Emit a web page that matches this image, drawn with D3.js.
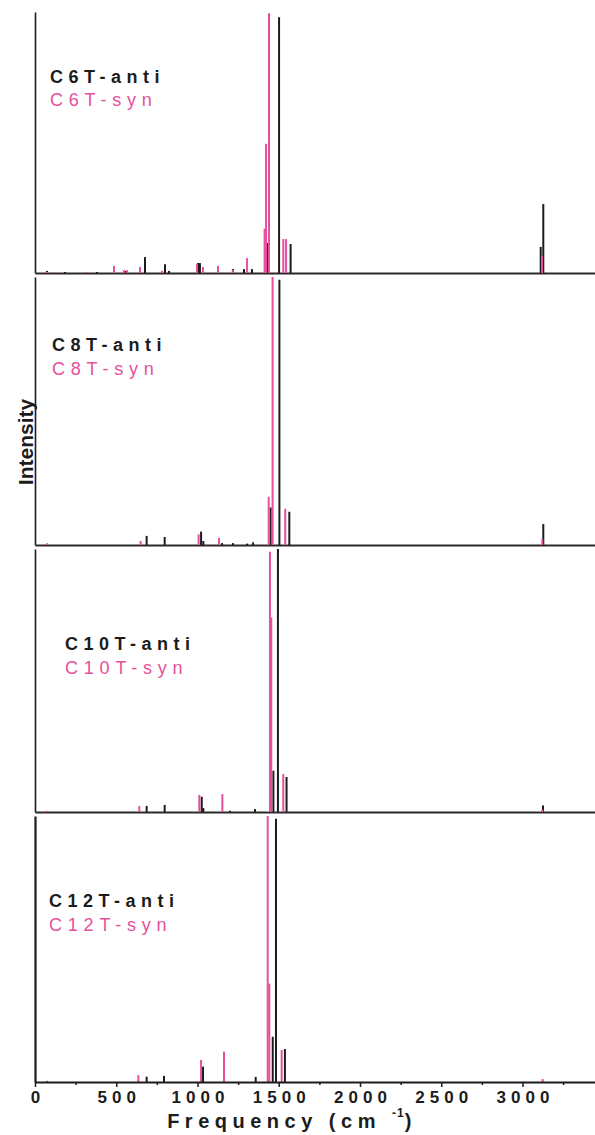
<!DOCTYPE html>
<html><head><meta charset="utf-8">
<script src="https://cdn.jsdelivr.net/npm/d3@7"></script>
<style>body{margin:0;background:#fff}svg{display:block}</style>
</head><body>
<svg id="chart" width="595" height="1135"></svg>
<script>
// ---------- DATA (frequency cm^-1, relative intensity) ----------
const panelNames = ["C6T", "C8T", "C10T", "C12T"];
const majorTicks = [0, 500, 1000, 1500, 2000, 2500, 3000];
const minorTicks = [250, 750, 1250, 1750, 2250, 2750, 3250];

const c6tAnti = [[74,0.8],[185,0.4],[382,0.4],[560,0.8],[677,6.1],[800,3.4],[825,0.8],[1003,3.8],[1015,3.8],
  [1218,1.5],[1286,1.5],[1335,1.5],[1432,11.5],[1502,98],[1573,11.1],[3112,10],[3128,26.4]];
const c6tSyn = [[74,0.4],[111,0.4],[320,0.4],[486,2.7],[548,1.1],[566,1.1],[646,2.3],[782,0.8],[997,3.4],[1034,2.3],
  [1126,2.7],[1218,1.1],[1305,5.7],[1413,17],[1422,49.5],[1440,99.5],[1528,13],[1545,13],[3120,6.5]];

const c8tAnti = [[74,0.5],[687,3.4],[798,3],[1022,5],[1036,1.5],[1151,0.7],[1218,0.7],[1305,0.5],[1342,1],
  [1450,14],[1504,99],[1565,12.4],[3128,7.8]];
const c8tSyn = [[74,0.4],[650,1.5],[1007,4],[1132,2.7],[1438,18],[1462,100],[1540,13.5],[3122,2.2]];

const c10tAnti = [[74,0.4],[687,2.3],[798,2.7],[1026,5.8],[1036,1.5],[1200,0.5],[1354,1.1],[1467,15.7],[1495,100],
  [1548,13.3],[3126,2.5]];
const c10tSyn = [[74,0.4],[642,2.3],[1011,6.5],[1153,6.8],[1446,99],[1454,74],[1528,14.4],[3122,1]];

const c12tAnti = [[74,0.4],[687,2],[794,2.3],[1034,5.8],[1358,1.9],[1463,17],[1483,99],[1538,12.4]];
const c12tSyn = [[74,0.4],[636,2.6],[1022,8.3],[1163,11.4],[1432,100],[1442,37],[1518,12],[3124,1.1]];

const antiSeries = [c6tAnti, c8tAnti, c10tAnti, c12tAnti];
const synSeries = [c6tSyn, c8tSyn, c10tSyn, c12tSyn];

// ---------- LAYOUT ----------
const layout = [
  {top: 12,  base: 273,  lx: 50, ly1: 83,  ly2: 106},
  {top: 277, base: 545,  lx: 52, ly1: 351, ly2: 375},
  {top: 549, base: 812,  lx: 65, ly1: 650, ly2: 674},
  {top: 816, base: 1082, lx: 49, ly1: 907, ly2: 931}
];
const BLACK = "#1c1c1c", PINK = "#e4509c";
const FONT = "'Liberation Sans', Arial, sans-serif";

const svg = d3.select("#chart");
const x = d3.scaleLinear().domain([0, 3500]).range([35, 35 + 3500 * 0.1625]);

panelNames.forEach((name, i) => {
  const L = layout[i];
  const y = d3.scaleLinear().domain([0, 100]).range([L.base, L.top]);
  const g = svg.append("g");

  const isLast = i === panelNames.length - 1;
  if (!isLast) {
    const ax = g.append("g").attr("transform", `translate(0,${L.base})`)
      .call(d3.axisBottom(x).tickValues([]).tickSizeOuter(0));
    ax.select(".domain").attr("stroke", "#2a2a2a").attr("stroke-width", 1.8);
  }

  const drawSticks = (data, color) => {
    g.append("g").selectAll("line").data(data).join("line")
      .attr("x1", d => x(d[0])).attr("x2", d => x(d[0]))
      .attr("y1", y(0)).attr("y2", d => y(d[1]))
      .attr("stroke", color).attr("stroke-width", 2);
  };
  drawSticks(antiSeries[i], BLACK);
  drawSticks(synSeries[i], PINK);

  if (isLast) {
    const axM = g.append("g").attr("transform", `translate(0,${L.base})`)
      .call(d3.axisBottom(x).tickValues(majorTicks).tickSize(5).tickSizeOuter(0).tickFormat(d3.format("d")));
    axM.select(".domain").attr("stroke", BLACK).attr("stroke-width", 1.8);
    axM.selectAll(".tick line").attr("stroke", BLACK).attr("stroke-width", 1.5);
    axM.selectAll(".tick text").attr("y", 21).attr("dy", 0).attr("dx", 2.5)
      .attr("fill", BLACK).style("font-family", FONT).style("font-size", "17px")
      .style("font-weight", "bold").style("letter-spacing", "5px");
    const axm = g.append("g").attr("transform", `translate(0,${L.base})`)
      .call(d3.axisBottom(x).tickValues(minorTicks).tickSize(3).tickFormat(""));
    axm.select(".domain").remove();
    axm.selectAll(".tick line").attr("stroke", BLACK).attr("stroke-width", 1.5);
  }

  const la = g.append("g").attr("transform", `translate(${x(0)},0)`)
    .call(d3.axisLeft(y).tickValues([]).tickSizeOuter(0));
  la.select(".domain").attr("stroke", BLACK).attr("stroke-width", isLast ? 2.2 : 1.6);

  g.append("text").attr("x", L.lx).attr("y", L.ly1).text(name + "-anti")
    .attr("fill", BLACK).style("font-family", FONT).style("font-size", "18px")
    .style("font-weight", "bold").style("letter-spacing", "5.5px");
  g.append("text").attr("x", L.lx).attr("y", L.ly2).text(name + "-syn")
    .attr("fill", PINK).style("font-family", FONT).style("font-size", "18px")
    .style("letter-spacing", "5.8px");
});

const xt = svg.append("text").attr("x", 292).attr("y", 1128).attr("text-anchor", "middle")
  .attr("fill", BLACK).style("font-family", FONT).style("font-size", "20px")
  .style("font-weight", "bold").style("letter-spacing", "5.5px");
xt.append("tspan").text("Frequency (cm ");
xt.append("tspan").attr("dy", -11).style("font-size", "12px").style("letter-spacing", "1px").text("-1");
xt.append("tspan").attr("dy", 11).text(")");

svg.append("text").attr("transform", "translate(33,442) rotate(-90)")
  .attr("text-anchor", "middle").attr("fill", BLACK)
  .style("font-family", FONT).style("font-size", "21px").style("font-weight", "bold")
  .text("Intensity");
</script>
</body></html>
